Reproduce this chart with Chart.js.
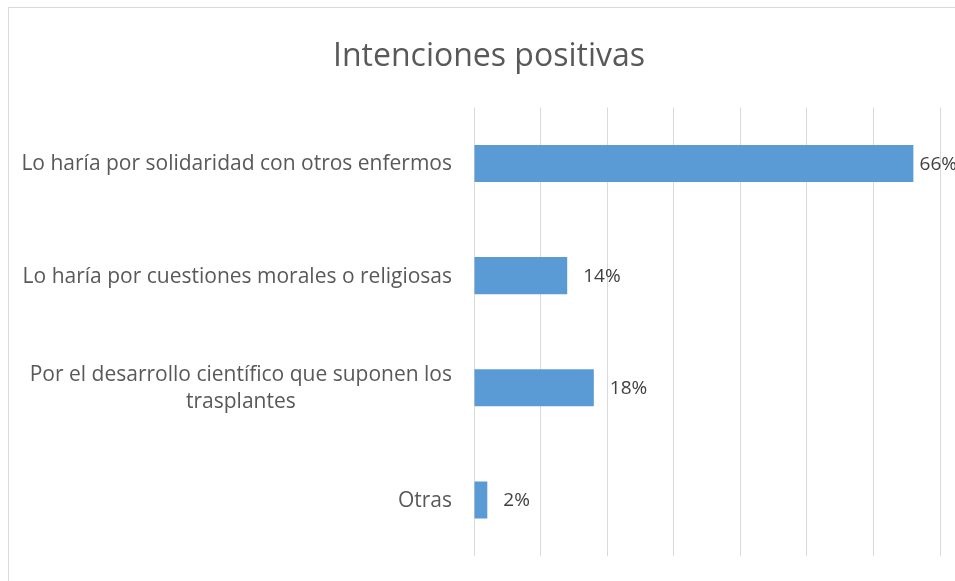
<!DOCTYPE html>
<html>
<head>
<meta charset="utf-8">
<script src="https://cdn.jsdelivr.net/npm/chart.js@4"></script>
<style>
  html, body { margin: 0; padding: 0; background: #fff; overflow: hidden; }
  #frame {
    position: absolute; left: 8px; top: 7px;
    width: 960px; height: 590px;
    border: 1px solid #d9d9d9;
    background: #fff;
  }
</style>
</head>
<body>
<div id="frame"><canvas id="chart" width="960" height="573"></canvas></div>
<script>
const titleText = "Intenciones positivas";
const categories = [
  "Lo haría por solidaridad con otros enfermos",
  "Lo haría por cuestiones morales o religiosas",
  ["Por el desarrollo científico que suponen los", "trasplantes"],
  "Otras"
];
const values = [66, 14, 18, 2];
const axisMax = 70;
const axisStep = 10;

const FONT = "'Open Sans', sans-serif";

// category labels drawn like Excel: right aligned, wrapped lines centred on each other
const categoryLabels = {
  id: "categoryLabels",
  afterDraw(chart) {
    const ctx = chart.ctx;
    const y = chart.scales.y;
    const right = chart.chartArea.left - 22;
    ctx.save();
    ctx.font = "21px " + FONT;
    ctx.fillStyle = "#595959";
    ctx.textAlign = "center";
    ctx.textBaseline = "middle";
    categories.forEach((lab, i) => {
      const lines = Array.isArray(lab) ? lab : [lab];
      const widest = Math.max(...lines.map(l => ctx.measureText(l).width));
      const cx = right - widest / 2;
      const lh = 27;
      const cy = y.getPixelForValue(i);
      lines.forEach((l, j) => {
        ctx.fillText(l, cx, cy + 1 + (j - (lines.length - 1) / 2) * lh);
      });
    });
    ctx.restore();
  }
};

// "outside end" value labels, pulled back when they would run off the chart
const valueLabels = {
  id: "valueLabels",
  afterDatasetsDraw(chart) {
    const ctx = chart.ctx;
    const meta = chart.getDatasetMeta(0);
    ctx.save();
    ctx.font = "19px " + FONT;
    ctx.fillStyle = "#404040";
    ctx.textAlign = "left";
    ctx.textBaseline = "middle";
    meta.data.forEach((bar, i) => {
      const txt = values[i] + "%";
      const w = ctx.measureText(txt).width;
      const x = Math.min(bar.x + 16, chart.width - w - 12);
      ctx.fillText(txt, x, bar.y + 1);
    });
    ctx.restore();
  }
};

new Chart(document.getElementById("chart"), {
  type: "bar",
  data: {
    labels: categories,
    datasets: [{
      data: values,
      backgroundColor: "#5b9bd5",
      borderWidth: 0,
      barPercentage: 0.33,
      categoryPercentage: 1
    }]
  },
  options: {
    indexAxis: "y",
    responsive: false,
    animation: false,
    layout: { padding: { left: 29, right: 29, top: 0, bottom: 25 } },
    plugins: {
      legend: { display: false },
      tooltip: { enabled: false },
      title: {
        display: true,
        text: titleText,
        color: "#595959",
        font: { family: FONT, size: 32, weight: "normal" },
        padding: { top: 30, bottom: 31 }
      }
    },
    scales: {
      x: {
        min: 0,
        max: axisMax,
        ticks: { display: false, stepSize: axisStep },
        grid: { color: "#d9d9d9", drawTicks: false },
        border: { display: false }
      },
      y: {
        ticks: { display: false },
        grid: { display: false, drawTicks: false },
        border: { display: false },
        afterFit(scale) { scale.width = 436; }
      }
    }
  },
  plugins: [categoryLabels, valueLabels]
});
</script>
</body>
</html>
